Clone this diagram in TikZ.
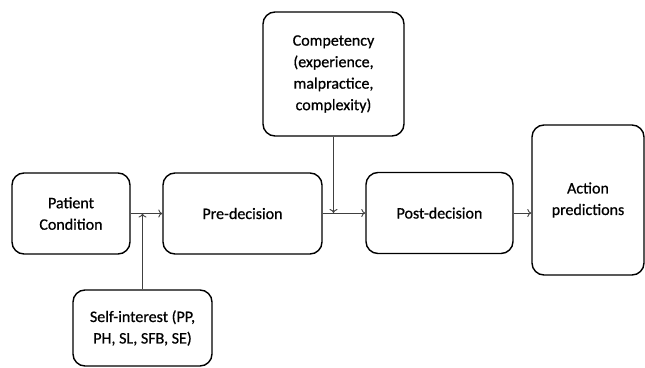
\documentclass[tikz,border=0pt]{standalone}
\usepackage{fontspec}
\setmainfont{Carlito}
\newfontfamily\boxfont{Carlito}[FakeBold=0.7]
\usetikzlibrary{arrows.meta}
\begin{document}
\begin{tikzpicture}[x=1pt,y=-1pt,
  box/.style={draw=black,line width=1.4pt,rounded corners=12pt,align=center,inner sep=0pt,
    font=\boxfont\fontsize{16}{21.5}\selectfont},
  conn/.style={draw=black!75,line width=0.9pt,-{To[length=4pt,width=8pt]}}]
\useasboundingbox (0,0) rectangle (645,367);
\node[box,minimum width=118pt,minimum height=81pt] (pc) at (71,213.5) {Patient\\Condition};
\node[box,minimum width=159pt,minimum height=81pt] (pre) at (242.5,213.5) {Pre-decision};
\node[box,minimum width=139pt,minimum height=76pt] (self) at (142.5,328) {Self-interest (PP,\\PH, SL, SFB, SE)};
\node[box,minimum width=141pt,minimum height=124pt] (comp) at (333.5,74) {Competency\\(experience,\\malpractice,\\complexity)};
\node[box,minimum width=147pt,minimum height=81pt] (post) at (439.5,213) {Post-decision};
\node[box,minimum width=112pt,minimum height=150pt] (act) at (588,200) {Action\\predictions};
\coordinate (j1) at (142.5,213.5);
\coordinate (j2) at (333.5,213);
\draw[conn] (pc.east) -- (pre.west);
\draw[conn] (self.north) -- (j1);
\draw[conn] (pre.east |- j2) -- (post.west);
\draw[conn] (comp.south) -- (j2);
\draw[conn] (post.east) -- (post.east -| act.west);
\end{tikzpicture}
\end{document}
